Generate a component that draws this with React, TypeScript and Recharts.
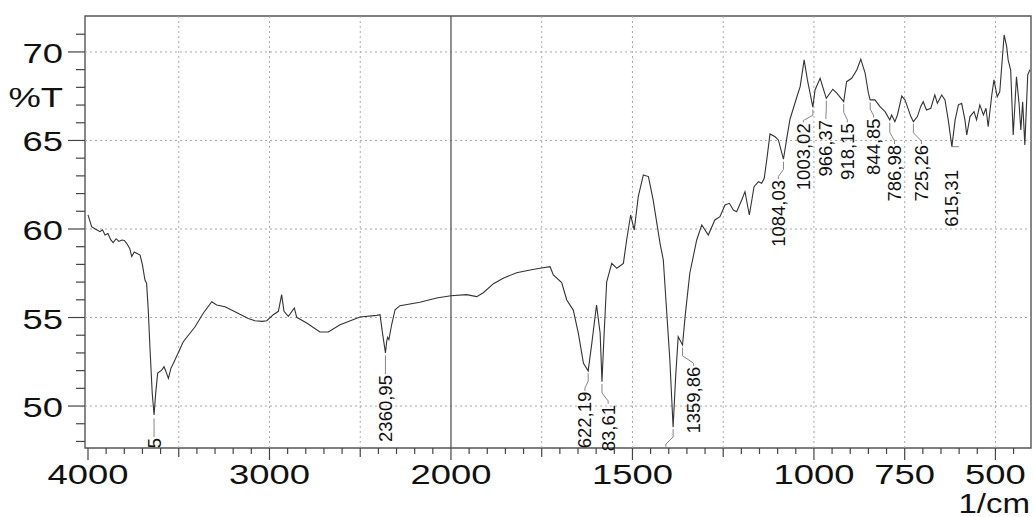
import { LineChart, Line, XAxis, YAxis, ReferenceLine, ReferenceDot, ReferenceArea, Label } from 'recharts';

// spectrum (wavenumber in 1/cm, transmittance in %)
const wavenumbers = [
  4000, 3980, 3960, 3934, 3920, 3906, 3890, 3875, 3861, 3845, 3830, 3814, 3800, 3787, 3770, 3759, 3745, 3732,
  3713, 3700, 3686, 3677, 3668, 3658, 3646, 3636, 3627, 3616, 3594, 3581, 3570, 3557, 3543, 3521, 3475, 3410,
  3365, 3318, 3291, 3245, 3190, 3117, 3080, 3040, 3015, 2979, 2951, 2933, 2920, 2896, 2863, 2850, 2795, 2722,
  2676, 2611, 2501, 2409, 2391, 2376, 2361, 2354, 2349, 2342, 2327, 2308, 2281, 2171, 2079, 2000, 1957, 1929,
  1911, 1883, 1856, 1819, 1782, 1755, 1727, 1718, 1695, 1681, 1663, 1649, 1635, 1622, 1612, 1599, 1589, 1584,
  1578, 1571, 1557, 1543, 1525, 1516, 1505, 1495, 1484, 1470, 1456, 1443, 1424, 1415, 1406, 1397, 1388, 1381,
  1374, 1362, 1355, 1342, 1323, 1309, 1291, 1273, 1259, 1245, 1233, 1222, 1213, 1199, 1190, 1178, 1165, 1153,
  1144, 1137, 1130, 1121, 1107, 1098, 1084, 1075, 1066, 1048, 1038, 1027, 1018, 1003, 997, 983, 966, 948, 937,
  918, 910, 896, 882, 871, 859, 850, 845, 832, 818, 804, 791, 786, 777, 770, 758, 749, 733, 726, 715, 706, 699,
  690, 678, 667, 660, 648, 639, 630, 620, 611, 602, 593, 584, 579, 570, 559, 552, 543, 533, 526, 520, 510, 504,
  495, 488, 476, 469, 465, 458, 451, 442, 435, 430, 425, 419, 411, 405,
];
const transmittance = [
  60.8, 60.13, 60.0, 59.85, 59.95, 59.66, 59.75, 59.4, 59.23, 59.45, 59.3, 59.38, 59.35, 59.19, 58.9, 58.44, 58.7, 58.63,
  58.53, 57.97, 57.12, 56.93, 55.42, 53.16, 50.72, 49.49, 50.73, 51.86, 52.03, 52.22, 51.94, 51.56, 52.13, 52.6, 53.63, 54.48,
  55.24, 55.89, 55.71, 55.61, 55.33, 54.95, 54.82, 54.78, 54.82, 55.16, 55.35, 56.29, 55.35, 55.07, 55.54, 55.01, 54.69, 54.18,
  54.18, 54.59, 55.03, 55.12, 55.16, 54.03, 53.0, 53.66, 53.88, 53.75, 54.59, 55.44, 55.67, 55.86, 56.1, 56.23, 56.29, 56.18,
  56.4, 56.91, 57.22, 57.53, 57.68, 57.78, 57.87, 57.4, 56.97, 55.99, 55.42, 54.1, 52.41, 51.99, 53.54, 55.71, 54.11, 51.38,
  54.11, 57.02, 58.06, 57.78, 58.06, 59.38, 60.79, 59.94, 61.83, 63.05, 62.96, 61.64, 59.19, 58.25, 55.42, 52.6, 48.8, 51.66,
  53.92, 53.45, 55.05, 57.5, 59.38, 60.23, 59.66, 60.51, 60.7, 61.36, 61.45, 61.07, 60.98, 61.64, 62.11, 60.79, 62.39, 62.67,
  62.58, 62.86, 63.9, 65.37, 65.21, 65.03, 63.94, 65.1, 66.2, 67.4, 68.04, 69.55, 68.42, 66.88, 67.85, 68.51, 67.38, 67.89, 67.67,
  67.19, 68.32, 68.51, 68.98, 69.59, 68.8, 67.67, 67.29, 67.29, 66.91, 66.63, 66.16, 66.44, 66.06, 66.44, 67.51, 67.29, 66.35, 66.06, 66.35, 66.91, 67.19,
  66.72, 66.82, 67.57, 67.1, 67.57, 67.29, 66.16, 64.65, 66.16, 67.01, 67.1, 66.16, 65.31, 66.35, 66.63, 66.16, 67.01, 66.44, 66.82, 65.78, 67.57, 68.42,
  67.47, 67.76, 70.96, 70.3, 69.55, 68.98, 65.31, 68.6, 67.1, 65.59, 67.19, 64.75, 68.7, 69.0,
];

// peak annotations: text, where the leader starts, where it ends, where the rotated text ends
const peakText = ['5', '2360,95', '622,19', '83,61', '', '1359,86', '1084,03', '1003,02', '966,37', '918,15', '844,85', '786,98', '725,26', '615,31'];
const peakWn = [3636, 2361, 1622, 1584, 1388, 1362, 1084, 1003, 966, 918, 845, 791, 726, 620];
const peakT = [49.3, 52.85, 51.85, 51.25, 48.7, 53.3, 63.8, 66.75, 67.25, 67.05, 67.15, 66.0, 65.95, 64.65];
const labelWn = [3636, 2361, 1631, 1567, 1408, 1332, 1098, 1029, 967, 908, 836, 778, 704, 600];
const labelT = [48.25, 51.8, 50.86, 50.12, 47.7, 52.27, 62.82, 66.02, 66.21, 66.02, 66.3, 64.8, 64.8, 64.65];
const textWn = [3636, 2361, 1631, 1567, 1408, 1332, 1098, 1029, 967, 908, 836, 778, 704, 620];
const textT = [48.2, 51.75, 50.81, 50.06, 47.7, 52.22, 62.77, 65.97, 66.16, 65.97, 66.25, 64.75, 64.75, 63.33];

const xLabels = [4000, 3000, 2000, 1500, 1000, 750, 500];
const xGrid = [3500, 3000, 2500, 1750, 1500, 1250, 1000, 750, 500];
const yLabels = [50, 55, 60, 65, 70];

// Shimadzu style axis: 4000-2000 at half the scale of 2000-400
const toPos = (wn: number) => (wn >= 2000 ? 4000 - wn : 2000 + (2000 - wn) * 2);
const fromPos = (p: number) => (p <= 2000 ? 4000 - p : 2000 - (p - 2000) / 2);

const X_MIN = -16.5;
const X_MAX = 5196;
const Y_MIN = 47.63;
const Y_MAX = 72.03;

const data = wavenumbers.map((wn, i) => ({ pos: toPos(wn), t: transmittance[i] }));
const xTicks: number[] = [];
for (let p = 0; p <= 5100; p += 100) xTicks.push(p);
const yTicks: number[] = [];
for (let v = 48; v <= 71; v++) yTicks.push(v);

const FONT = 'Liberation Sans, Arial, sans-serif';

const XTick = (props: any) => {
  const { x, y, payload } = props;
  const wn = Math.round(fromPos(payload.value));
  const labeled = xLabels.includes(wn);
  const mid = wn % 500 === 0 || (wn < 2000 && wn % 250 === 0);
  const len = labeled ? 12 : mid ? 9 : 6;
  return (
    <g>
      <line x1={x} y1={y} x2={x} y2={y + len} stroke="#444" strokeWidth={1.2} />
      {labeled && (
        <text transform={`translate(${x},${y + 36}) scale(1.3,1)`} textAnchor="middle" fontSize={28} fontFamily={FONT} fill="#111">
          {wn}
        </text>
      )}
    </g>
  );
};

const YTick = (props: any) => {
  const { x, y, payload } = props;
  const v = payload.value;
  const major = yLabels.includes(v);
  return (
    <g>
      <line x1={x - (major ? 17 : 9)} y1={y} x2={x} y2={y} stroke="#444" strokeWidth={1.2} />
      {major && (
        <text transform={`translate(${x - 22},${y + 11}) scale(1.3,1)`} textAnchor="end" fontSize={28} fontFamily={FONT} fill="#111">
          {v}
        </text>
      )}
    </g>
  );
};

export default function App() {
  return (
    <div style={{ position: 'absolute', left: 0, top: 0, background: '#fff' }}>
      <LineChart width={1033} height={517} data={data} margin={{ top: 16, right: 2, left: 0, bottom: 0 }}>
        <XAxis
          type="number"
          dataKey="pos"
          domain={[X_MIN, X_MAX]}
          allowDataOverflow
          ticks={xTicks}
          interval={0}
          tick={XTick}
          tickLine={false}
          tickSize={0}
          tickMargin={0}
          axisLine={false}
          height={69}
        >
          <Label
            content={(p: any) => {
              const vb = p.viewBox;
              return (
                <text transform={`translate(${vb.x + vb.width - 1},${vb.y + 65}) scale(1.18,1)`} textAnchor="end" fontSize={28} fontFamily={FONT} fill="#111">
                  1/cm
                </text>
              );
            }}
          />
        </XAxis>
        <YAxis
          type="number"
          domain={[Y_MIN, Y_MAX]}
          allowDataOverflow
          ticks={yTicks}
          interval={0}
          tick={YTick}
          tickLine={false}
          tickSize={0}
          tickMargin={0}
          axisLine={false}
          width={85}
        >
          <Label
            content={(p: any) => {
              const vb = p.viewBox;
              return (
                <text transform={`translate(${vb.x + 63},${vb.y + 91}) scale(1.3,1)`} textAnchor="end" fontSize={28} fontFamily={FONT} fill="#111">
                  %T
                </text>
              );
            }}
          />
        </YAxis>

        {yLabels.map((v) => (
          <ReferenceLine key={`h${v}`} y={v} stroke="#a8a8a8" strokeDasharray="2 3" strokeWidth={1} />
        ))}
        {xGrid.map((wn) => (
          <ReferenceLine key={`v${wn}`} x={toPos(wn)} stroke="#a8a8a8" strokeDasharray="2 3" strokeWidth={1} />
        ))}
        <ReferenceLine x={toPos(2000)} stroke="#555" strokeWidth={1.3} />
        <ReferenceArea x1={X_MIN} x2={X_MAX} y1={Y_MIN} y2={Y_MAX} fill="none" stroke="#555" strokeWidth={1.4} />

        {peakText.map((txt, i) => {
          const pw = peakWn[i];
          const pt = peakT[i];
          const lw = labelWn[i];
          const lt = labelT[i];
          const pts =
            txt === '615,31'
              ? [
                  { x: toPos(pw), y: pt },
                  { x: toPos(lw), y: lt },
                ]
              : [
                  { x: toPos(pw), y: pt },
                  { x: toPos(pw), y: pt - 0.45 * (pt - lt) },
                  { x: toPos(lw), y: pt - 0.85 * (pt - lt) },
                  { x: toPos(lw), y: lt },
                ];
          return pts.slice(1).map((q, k) => (
            <ReferenceLine key={`l${i}-${k}`} segment={[pts[k], q]} stroke="#777" strokeWidth={0.9} ifOverflow="visible" />
          ));
        })}

        <Line type="linear" dataKey="t" stroke="#333" strokeWidth={1.1} dot={false} isAnimationActive={false} />

        {peakText.map((txt, i) =>
          txt ? (
            <ReferenceDot
              key={`t${i}`}
              x={toPos(textWn[i])}
              y={textT[i]}
              r={0}
              ifOverflow="visible"
              shape={(p: any) => (
                <text
                  x={p.cx}
                  y={p.cy}
                  transform={`rotate(-90 ${p.cx} ${p.cy})`}
                  textAnchor="end"
                  dominantBaseline="central"
                  fontSize={18.5}
                  fontFamily={FONT}
                  fill="#111"
                >
                  {txt}
                </text>
              )}
            />
          ) : null
        )}
      </LineChart>
    </div>
  );
}
